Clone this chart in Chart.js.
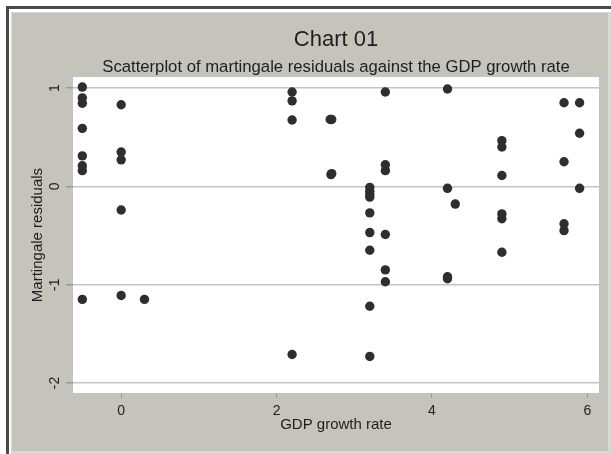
<!DOCTYPE html>
<html>
<head>
<meta charset="utf-8">
<script src="https://cdn.jsdelivr.net/npm/chart.js@4"></script>
<style>
  body { margin: 0; background: #fff; }
  #wrap { width: 611px; height: 454px; }
</style>
</head>
<body>
<div id="wrap"><canvas id="chart" width="611" height="454"></canvas></div>
<script>
// GDP growth rate (x) and martingale residual (y) for each observation
const growthRate = [
  -0.5, -0.5, -0.5, -0.5, -0.5, -0.5, -0.5, -0.5,
  0, 0, 0, 0, 0,
  0.3,
  2.2, 2.2, 2.2, 2.2,
  2.69, 2.71, 2.7, 2.71,
  3.2, 3.2, 3.2, 3.2, 3.2, 3.2, 3.2, 3.2, 3.2,
  3.4, 3.4, 3.4, 3.4, 3.4, 3.4,
  4.2, 4.2, 4.2, 4.2,
  4.3,
  4.9, 4.9, 4.9, 4.9, 4.9, 4.9,
  5.7, 5.7, 5.7, 5.7,
  5.9, 5.9, 5.9
];
const residuals = [
  1.01, 0.90, 0.845, 0.59, 0.31, 0.21, 0.16, -1.15,
  0.83, 0.35, 0.27, -0.24, -1.11,
  -1.15,
  0.96, 0.87, 0.675, -1.71,
  0.68, 0.68, 0.12, 0.13,
  -0.01, -0.05, -0.08, -0.11, -0.27, -0.47, -0.65, -1.22, -1.73,
  0.96, 0.22, 0.16, -0.49, -0.85, -0.97,
  0.99, -0.02, -0.92, -0.94,
  -0.18,
  0.465, 0.40, 0.11, -0.28, -0.33, -0.67,
  0.85, 0.25, -0.38, -0.45,
  0.85, 0.54, -0.02
];
const xTicks = [0, 2, 4, 6];
const yTicks = [-2, -1, 0, 1];

const font = 'Liberation Sans, Arial, sans-serif';
const ink = '#1e1e1e';
const gridColor = '#c4c4c4';

const points = growthRate.map((x, i) => ({ x: x, y: residuals[i] }));

// Stata-like backdrop: dark frame, grey graph region, white plot region
const backdrop = {
  id: 'backdrop',
  beforeDraw(chart) {
    const { ctx, width, height, chartArea } = chart;
    ctx.save();
    ctx.fillStyle = '#ffffff';
    ctx.fillRect(0, 0, width, height);
    ctx.fillStyle = '#4a4a4a';
    ctx.fillRect(6, 6, width - 6, 3);
    ctx.fillRect(6, 6, 3, height - 6);
    ctx.fillStyle = '#d9d9d3';
    ctx.fillRect(11, 12, width - 11, height - 12);
    ctx.fillStyle = 'rgb(196,196,188)';
    ctx.fillRect(12, 13, width - 15, height - 16);
    ctx.fillStyle = '#ffffff';
    ctx.fillRect(chartArea.left, chartArea.top, chartArea.right - chartArea.left, chartArea.bottom - chartArea.top);
    ctx.restore();
  }
};

new Chart(document.getElementById('chart'), {
  type: 'scatter',
  data: {
    datasets: [{
      data: points,
      backgroundColor: '#2e2e2e',
      borderWidth: 0,
      pointRadius: 4.7,
      pointHoverRadius: 4.7
    }]
  },
  options: {
    responsive: false,
    animation: false,
    events: [],
    layout: { padding: { left: 0, right: 12, top: 0, bottom: 0 } },
    plugins: {
      legend: { display: false },
      tooltip: { enabled: false },
      title: {
        display: true,
        text: 'Chart 01',
        fullSize: false,
        color: ink,
        font: { family: font, size: 22, weight: 'normal' },
        padding: { top: 27, bottom: 0 }
      },
      subtitle: {
        display: true,
        text: 'Scatterplot of martingale residuals against the GDP growth rate',
        fullSize: false,
        color: ink,
        font: { family: font, size: 16.7, weight: 'normal' },
        padding: { top: 3.6, bottom: 0 }
      }
    },
    scales: {
      x: {
        type: 'linear',
        min: -0.62,
        max: 6.15,
        afterBuildTicks: s => { s.ticks = xTicks.map(v => ({ value: v })); },
        afterFit: s => { s.height = 61; },
        border: { display: false },
        grid: { drawOnChartArea: false, drawTicks: true, tickLength: 5, tickColor: '#9a9a9a', lineWidth: 1 },
        ticks: { color: ink, font: { family: font, size: 14 }, padding: 5, maxRotation: 0 },
        title: {
          display: true,
          text: 'GDP growth rate',
          color: ink,
          font: { family: font, size: 15 },
          padding: { top: 0, bottom: 20 }
        }
      },
      y: {
        type: 'linear',
        min: -2.102,
        max: 1.112,
        afterBuildTicks: s => { s.ticks = yTicks.map(v => ({ value: v })); },
        afterFit: s => { s.width = 73; },
        border: { display: false },
        grid: { color: gridColor, lineWidth: 1.5, drawTicks: true, tickLength: 7, tickColor: '#9a9a9a' },
        ticks: {
          color: ink,
          font: { family: font, size: 14 },
          padding: 5,
          minRotation: 90,
          maxRotation: 90,
          crossAlign: 'center'
        },
        title: {
          display: true,
          text: 'Martingale residuals',
          color: ink,
          font: { family: font, size: 15 },
          padding: { top: 29, bottom: 0 }
        }
      }
    }
  },
  plugins: [backdrop]
});
</script>
</body>
</html>
